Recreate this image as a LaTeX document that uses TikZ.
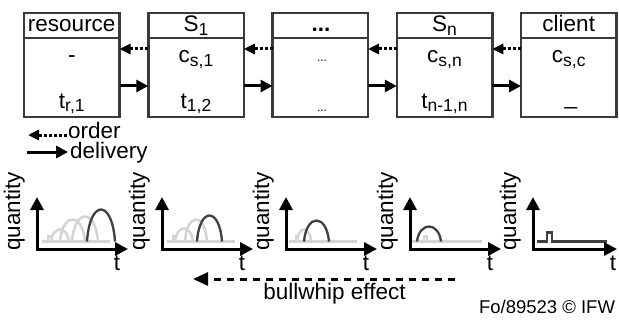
\documentclass[tikz,border=0pt]{standalone}
\usepackage{fontspec}
\setmainfont{Liberation Sans}
\usetikzlibrary{arrows.meta}
\definecolor{boxc}{HTML}{3A3A3A}
\definecolor{darkc}{HTML}{404040}
\definecolor{grayc}{HTML}{D4D4D4}
\newcommand\sbx[1]{\raisebox{-3.5pt}{\fontsize{17.5pt}{20pt}\selectfont #1}}
\newcommand\hump[4]{(#1,#4) .. controls ({#1+0.1*(#2-#1)},{#4-1.333*#3}) and ({#2-0.1*(#2-#1)},{#4-1.333*#3}) .. (#2,#4)}
\begin{document}
\begin{tikzpicture}[x=1pt,y=-1pt,
  every node/.style={inner sep=0pt, outer sep=0pt, font=\fontsize{22.5pt}{27pt}\selectfont},
  box/.style={draw=boxc, line width=2.5pt, minimum width=95.5pt, minimum height=104pt, fill=white},
  divider/.style={draw=boxc, line width=2.5pt},
  orderarr/.style={line width=3pt, dash pattern=on 3pt off 2pt, -{Triangle[length=11pt,width=10pt]}},
  delivarr/.style={line width=3pt, -{Triangle[length=12pt,width=12pt]}},
  axis/.style={line width=3pt, line join=miter, {Triangle[length=13pt,width=13pt]}-{Triangle[length=13pt,width=13pt]}},
  grayline/.style={draw=grayc, line width=2.5pt},
  darkline/.style={draw=darkc, line width=2.3pt},
  bwarr/.style={line width=3pt, dash pattern=on 7pt off 6pt, -{Triangle[length=15pt,width=13pt]}},
  lbl/.style={anchor=base},
  small/.style={font=\fontsize{12pt}{14pt}\selectfont},
]
\fill[white] (0,0) rectangle (619,321);
\useasboundingbox (0,0) rectangle (619,321);

% boxes
\node[box] (res) at (71.75,65) {};
\node[box] (s1) at (196,65) {};
\node[box] (mid) at (320.25,65) {};
\node[box] (sn) at (444.5,65) {};
\node[box] (cli) at (568.75,65) {};
\foreach \b in {res,s1,mid,sn,cli}
  \draw[divider] ([yshift=-25pt]\b.north west) -- ([yshift=-25pt]\b.north east);

% headers
\node[lbl] (hres) at (71.75,32) {resource};
\node[lbl] (hs1) at (196,32) {S\sbx{1}};
\node[lbl] (hmid) at (321,32) {\textbf{...}};
\node[lbl] (hsn) at (444.5,32) {S\sbx{n}};
\node[lbl] (hcli) at (568.75,32) {client};

% row 1
\node[lbl] (ares) at (71.75,63) {-};
\node[lbl] (as1) at (196,63) {c\sbx{s,1}};
\node[lbl, small] (amid) at (322,62) {...};
\node[lbl] (asn) at (444.5,63) {c\sbx{s,n}};
\node[lbl] (acli) at (568.75,63) {c\sbx{s,c}};

% row 2
\node[lbl] (bres) at (71.75,108) {t\sbx{r,1}};
\node[lbl] (bs1) at (196,108) {t\sbx{1,2}};
\node[lbl, small] (bmid) at (322,111) {...};
\node[lbl] (bsn) at (444.5,108) {t\sbx{n-1,n}};
\node[lbl] (bcli) at (571,104) {\_};

% order / delivery arrows
\coordinate (oy) at (0,49);
\coordinate (dy) at (0,86);
\foreach \a/\b in {res/s1,s1/mid,mid/sn,sn/cli}{
  \draw[orderarr] (\b.west |- oy) -- (\a.east |- oy);
  \draw[delivarr] (\a.east |- dy) -- (\b.west |- dy);
}

% legend
\coordinate (lo1) at (28,135);
\coordinate (lo2) at (67,135);
\draw[orderarr] (lo2) -- (lo1);
\node[anchor=base west] (lorder) at (68,138.5) {order};
\coordinate (ld1) at (27,152);
\coordinate (ld2) at (68,152);
\draw[delivarr] (ld1) -- (ld2);
\node[anchor=base west] (ldeliv) at (70,158) {delivery};

% graph 1
\begin{scope}[shift={(37,249)}]
\draw[grayline] (5,-7.5) -- (73,-7.5);
\draw[grayline] (11,-7.5) -- (11,-12.5) -- (16,-12.5);
\draw[grayline] \hump{14}{32}{12}{-7.5};
\draw[grayline] \hump{23}{48}{22}{-7.5};
\draw[grayline] \hump{35}{61}{25}{-7.5};
\draw[darkline] \hump{50}{78}{32}{-7.5};
\draw[axis] (0,-52) -- (0,0) -- (91,0);
\node[anchor=base, rotate=90] (q1) at (-17,-37.5) {quantity};
\node[anchor=base] (t1) at (80,21) {t};
\end{scope}

% graph 2
\begin{scope}[shift={(162,249)}]
\draw[grayline] (5,-7.5) -- (73,-7.5);
\draw[grayline] (11,-7.5) -- (11,-12.5) -- (15,-12.5);
\draw[grayline] \hump{13}{31}{13}{-7.5};
\draw[grayline] \hump{23}{45}{22}{-7.5};
\draw[darkline] \hump{35}{60}{26}{-7.5};
\draw[axis] (0,-52) -- (0,0) -- (91,0);
\node[anchor=base, rotate=90] (q2) at (-17,-37.5) {quantity};
\node[anchor=base] (t2) at (80,21) {t};
\end{scope}

% graph 3
\begin{scope}[shift={(286,249)}]
\draw[grayline] (3,-7.5) -- (71,-7.5);
\draw[grayline] (10,-7.5) -- (10,-12.5) -- (13,-12.5);
\draw[grayline] \hump{11}{25}{12}{-7.5};
\draw[darkline] \hump{18}{43}{21}{-7.5};
\draw[axis] (0,-52) -- (0,0) -- (91,0);
\node[anchor=base, rotate=90] (q3) at (-17,-37.5) {quantity};
\node[anchor=base] (t3) at (80,21) {t};
\end{scope}

% graph 4
\begin{scope}[shift={(410,249)}]
\draw[grayline] (2,-7.5) -- (72,-7.5);
\draw[grayline] (14,-7.5) -- (14,-12.5) -- (17,-12.5) -- (17,-7.5);
\draw[darkline] \hump{7}{31}{15}{-7.5};
\draw[axis] (0,-52) -- (0,0) -- (91,0);
\node[anchor=base, rotate=90] (q4) at (-17,-37.5) {quantity};
\node[anchor=base] (t4) at (80,21) {t};
\end{scope}

% graph 5
\begin{scope}[shift={(533,249)}]
\draw[darkline] (4,-7.5) -- (14,-7.5) -- (14,-16.5) -- (19,-16.5) -- (19,-7.5) -- (74,-7.5);
\draw[axis] (0,-52) -- (0,0) -- (84,0);
\node[anchor=base, rotate=90] (q5) at (-17,-37.5) {quantity};
\node[anchor=base] (t5) at (80,21) {t};
\end{scope}

% bullwhip
\coordinate (bwR) at (455,279);
\coordinate (bwL) at (193,279);
\draw[bwarr] (bwR) -- (bwL);
\node[lbl] (bw) at (334.5,299) {bullwhip effect};

\node[anchor=base east, font=\fontsize{18.5pt}{22pt}\selectfont] (cr) at (615,313) {Fo/89523 © IFW};
\end{tikzpicture}
\end{document}
